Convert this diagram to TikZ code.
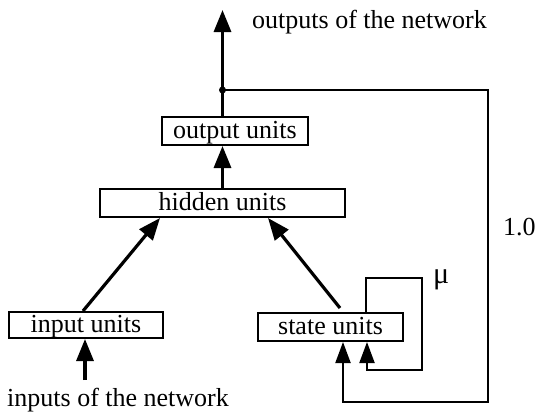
\documentclass[tikz,border=0pt]{standalone}
\usepackage{fontspec}
\setmainfont{Liberation Serif}
\usetikzlibrary{arrows.meta,calc}
\begin{document}
\begin{tikzpicture}[x=1pt,y=-1pt,
  font=\fontsize{26}{30}\selectfont,
  unitbox/.style={draw,line width=2pt,inner sep=0pt,text height=16pt,text depth=2pt},
  mainarr/.style={line width=3.2pt,-{Triangle[length=22pt,width=17pt]}},
  fbarr/.style={line width=2pt,-{Triangle[length=21pt,width=15pt]}},
  lbl/.style={inner sep=0pt,anchor=base west}]
\useasboundingbox (0,0) rectangle (536,416);
\node[unitbox,minimum width=146pt,minimum height=28pt] (out) at (235,131) {output units};
\node[unitbox,minimum width=245pt,minimum height=28pt] (hid) at (222.5,203) {hidden units};
\node[unitbox,minimum width=154pt,minimum height=26pt] (inp) at (86,325) {input units};
\node[unitbox,minimum width=145pt,minimum height=28pt] (st) at (330.5,327) {state units};
\node[lbl] (outlbl) at (252,28) {outputs of the network};
\node[lbl] (inlbl) at (7,406) {inputs of the network};
\node[lbl] (one) at (503,235) {1.0};
\node[lbl,font=\fontsize{30}{34}\selectfont] (mu) at (433,283) {μ};
\coordinate (top) at (222.5,10);
\coordinate (j) at (222.5,90);
\coordinate (fbc) at (488,402);
\coordinate (lp1) at (422,278);
\coordinate (lp2) at (422,370);
\coordinate (inbot) at (85,380);
% forward arrows
\draw[mainarr] (hid.north) -- (hid.north |- out.south);
\draw[mainarr] (hid.north |- out.north) -- (top);
\draw[mainarr] (inbot) -- (inbot |- inp.south);
\draw[mainarr] ($(inp.north)+(-3,0)$) -- ($(hid.south)+(-62.5,0)$);
\draw[mainarr] ($(st.north)+(9.5,-4)$) -- ($(hid.south)+(45.5,0)$);
% feedback
\fill (j) circle (3.5pt);
\draw[fbarr] (j) -| (fbc) -| ($(st.south)+(12.5,0)$);
% self loop
\draw[fbarr] ($(st.north)+(35.5,0)$) |- (lp1) -- (lp2) -| ($(st.south)+(36.5,0)$);
\end{tikzpicture}
\end{document}
